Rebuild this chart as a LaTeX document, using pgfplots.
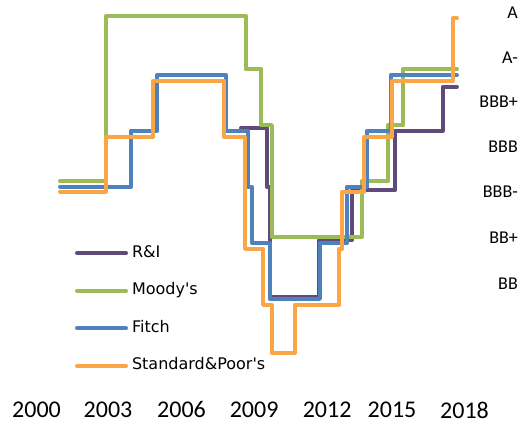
\documentclass[border=0pt]{standalone}
\usepackage{pgfplots}
\pgfplotsset{compat=1.18}
\usepackage{fontspec}
\setmainfont{DejaVu Sans}
\newfontfamily\carlito{Carlito}
\definecolor{riC}{RGB}{96,74,123}
\definecolor{moC}{RGB}{155,187,89}
\definecolor{fiC}{RGB}{79,129,189}
\definecolor{spC}{RGB}{250,165,70}
\begin{document}
\begin{tikzpicture}
\begin{axis}[
  x=23.78pt, y=55.5pt,
  xmin=1998.465, xmax=2020.417, ymin=-2.252, ymax=5.405,
  axis line style={draw=none}, major tick length=0pt, tick style={draw=none},
  clip=false,
  xtick={2000,2003.007,2006.10,2009.15,2012.22,2014.95,2018},
  xticklabels={2000,2003,2006,2009,2012,2015,2018},
  xticklabel style={font=\carlito\fontsize{24}{24}\selectfont, anchor=center, inner sep=0pt, yshift=15pt},
  ytick={0.297,1.117,1.955,2.766,3.577,4.37,5.18},
  yticklabels={BB,BB+,BBB-,BBB,BBB+,A-,A},
  yticklabel pos=right,
  yticklabel style={font=\carlito\fontsize{18}{18}\selectfont, anchor=east, inner sep=0pt, xshift=-4pt},
  legend style={draw=none, fill=none, at={(0.1437,0.4228)}, anchor=north west,
    inner sep=0pt, outer sep=0pt, row sep=21.5pt, column sep=4pt,
    font=\fontsize{16}{16}\selectfont,
    nodes={inner sep=0pt, text height=12pt, text depth=4pt}},
  legend cell align=left,
  legend image code/.code={\draw[#1] (2pt,0pt) -- (51pt,0pt);},
  every axis plot/.append style={line width=4pt, line join=round, line cap=round},
]
\addplot[riC] coordinates {(2008.60,3.10)(2009.69,3.10)(2009.69,2.04)(2009.84,2.04)(2009.84,0.05)(2011.90,0.05)(2011.90,1.08)(2013.27,1.08)(2013.27,1.98)(2015.08,1.98)(2015.08,3.05)(2017.09,3.05)(2017.09,3.84)(2017.68,3.84)};
\addlegendentry{R\&I}
\addplot[moC] coordinates {(2000.99,2.14)(2002.92,2.14)(2002.92,5.12)(2008.81,5.12)(2008.81,4.16)(2009.44,4.16)(2009.44,3.15)(2009.90,3.15)(2009.90,1.14)(2013.69,1.14)(2013.69,2.14)(2014.78,2.14)(2014.78,3.15)(2015.41,3.15)(2015.41,4.16)(2017.68,4.16)};
\addlegendentry{Moody\textquotesingle s}
\addplot[fiC] coordinates {(2000.99,2.04)(2003.97,2.04)(2003.97,3.05)(2005.07,3.05)(2005.07,4.05)(2007.97,4.05)(2007.97,3.05)(2008.89,3.05)(2008.89,2.04)(2009.06,2.04)(2009.06,1.03)(2009.82,1.03)(2009.82,0.02)(2011.92,0.02)(2011.92,1.03)(2013.06,1.03)(2013.06,2.04)(2013.90,2.04)(2013.90,3.05)(2014.91,3.05)(2014.91,4.05)(2017.68,4.05)};
\addlegendentry{Fitch}
\addplot[spC] coordinates {(2000.99,1.95)(2002.92,1.95)(2002.92,2.94)(2004.90,2.94)(2004.90,3.95)(2007.89,3.95)(2007.89,2.94)(2008.77,2.94)(2008.77,0.92)(2009.53,0.92)(2009.53,-0.09)(2009.90,-0.09)(2009.90,-0.95)(2010.87,-0.95)(2010.87,-0.09)(2012.72,-0.09)(2012.72,0.92)(2012.85,0.92)(2012.85,1.95)(2013.77,1.95)(2013.77,2.94)(2014.95,2.94)(2014.95,3.95)(2017.52,3.95)(2017.52,5.08)(2017.68,5.08)};
\addlegendentry{Standard\&Poor\textquotesingle s}
\path (rel axis cs:0,0) rectangle (rel axis cs:1,1);
\end{axis}
\end{tikzpicture}
\end{document}
